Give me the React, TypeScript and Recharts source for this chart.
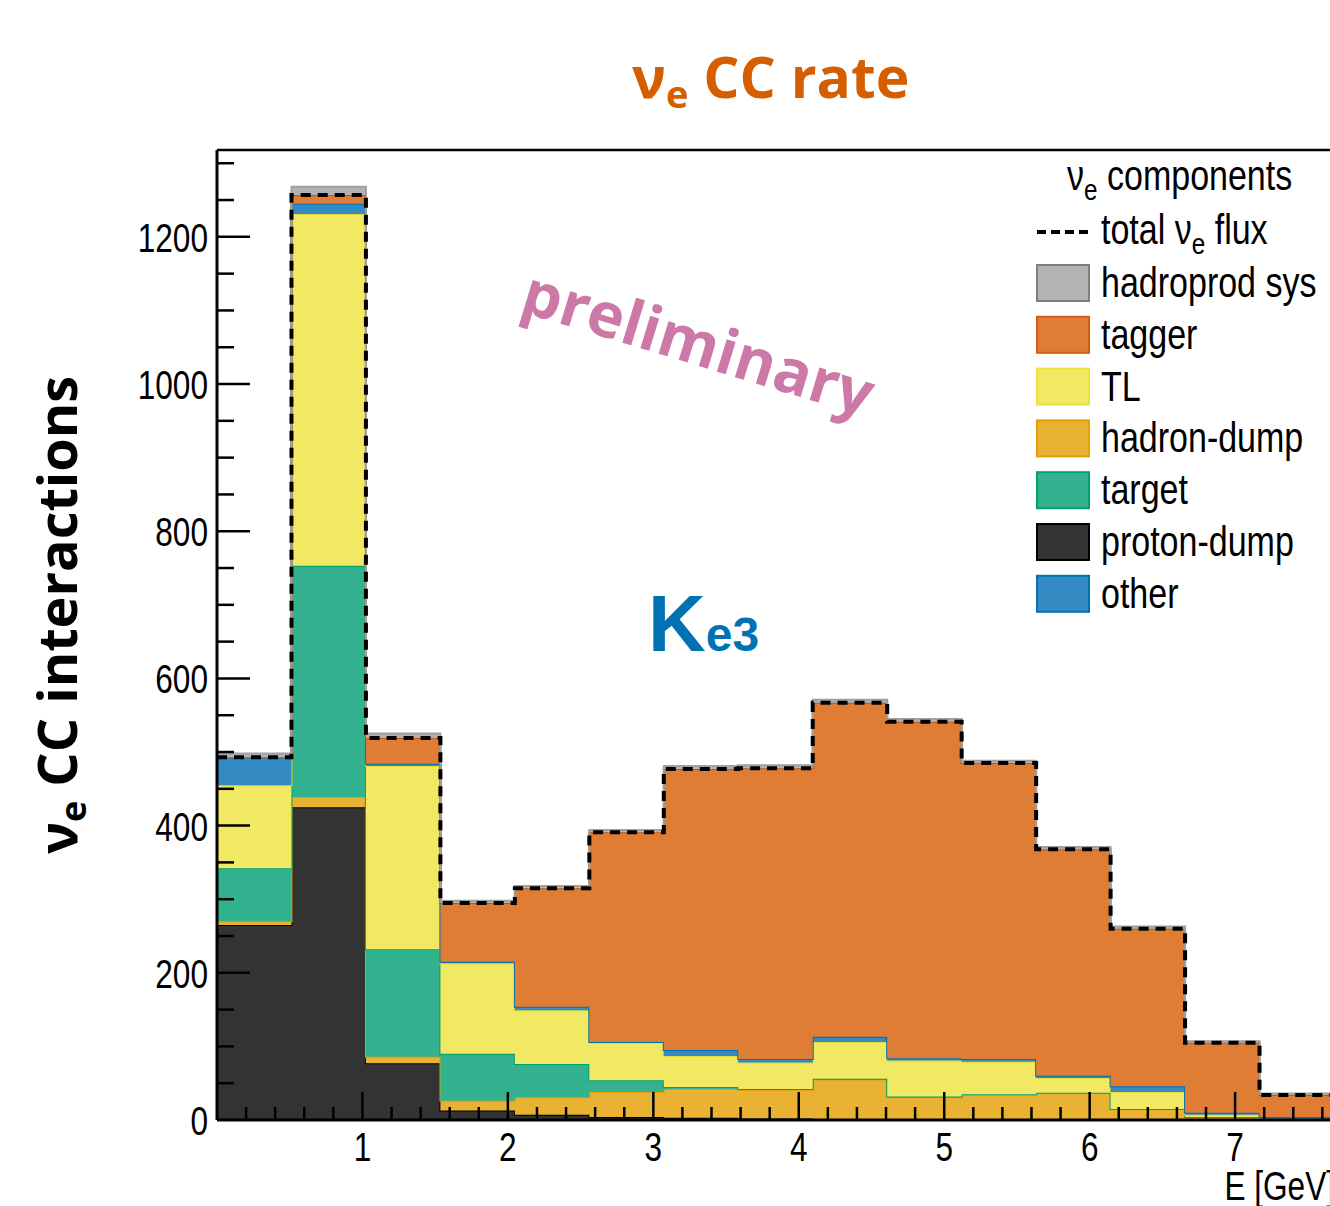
import { ComposedChart, Area, Line, XAxis, YAxis, ReferenceLine } from "recharts";

// bin edges in GeV (15 bins, last edge closes the final bin)
const binEdges = [0, 0.512, 1.024, 1.536, 2.048, 2.56, 3.072, 3.584, 4.096, 4.608, 5.12, 5.632, 6.144, 6.656, 7.168, 7.68];

// stacked components per bin, bottom to top
const protonDump = [265, 425, 77, 13, 7, 4, 3, 2, 1, 1, 1, 1, 0, 0, 0];
const hadronDump = [5, 14, 9, 13, 24, 34, 39, 39, 54, 30, 34, 36, 15, 4, 1];
const target = [72, 314, 146, 64, 45, 16, 3, 1, 1, 1, 0, 0, 0, 0, 0];
const tl = [113, 478, 249, 123, 73, 51, 42, 36, 50, 49, 44, 20, 23, 3, 0];
const other = [38, 14, 3, 2, 5, 1, 8, 5, 7, 3, 4, 3, 8, 3, 3];
const tagger = [0, 12, 35, 80, 161, 285, 382, 395, 454, 457, 402, 308, 214, 95, 30];
const hadroprodSys = [5, 11, 6, 3, 3, 3, 4, 4, 4, 4, 3, 3, 3, 2, 2];

const xMajor = [1, 2, 3, 4, 5, 6, 7];
const Y_MAX = 1318;
const X_MAX = 7.68;

const xTicks: number[] = [];
for (let i = 1; i * 0.2 < X_MAX; i++) xTicks.push(Math.round(i * 2) / 10);
const yTicks: number[] = [];
for (let v = 0; v < Y_MAX; v += 50) yTicks.push(v);

const rows = binEdges.map((x, k) => {
  const i = Math.min(k, protonDump.length - 1);
  return {
    x,
    protonDump: protonDump[i],
    hadronDump: hadronDump[i],
    target: target[i],
    tl: tl[i],
    other: other[i],
    tagger: tagger[i],
    sys: hadroprodSys[i],
    total: protonDump[i] + hadronDump[i] + target[i] + tl[i] + other[i] + tagger[i],
  };
});

const series = [
  { key: "protonDump", name: "proton-dump", fill: "#333333", stroke: "#000000" },
  { key: "hadronDump", name: "hadron-dump", fill: "#E9B233", stroke: "#E3A000" },
  { key: "target", name: "target", fill: "#33B28F", stroke: "#00A070" },
  { key: "tl", name: "TL", fill: "#F1E864", stroke: "#E8DA30" },
  { key: "other", name: "other", fill: "#348AC3", stroke: "#0072B2" },
  { key: "tagger", name: "tagger", fill: "#DE7D33", stroke: "#B85A1A" },
  { key: "sys", name: "hadroprod sys", fill: "#B3B3B3", stroke: "#A0A0A0" },
];

const legendRows = [
  { name: "hadroprod sys", fill: "#B3B3B3", stroke: "#808080" },
  { name: "tagger", fill: "#DE7D33", stroke: "#D06010" },
  { name: "TL", fill: "#F1E864", stroke: "#EEE040" },
  { name: "hadron-dump", fill: "#E9B233", stroke: "#E3A000" },
  { name: "target", fill: "#33B28F", stroke: "#00A070" },
  { name: "proton-dump", fill: "#333333", stroke: "#000000" },
  { name: "other", fill: "#348AC3", stroke: "#0072B2" },
];

const SANS = "'Liberation Sans', Arial, sans-serif";
const BOLD = "'Open Sans', 'Noto Sans', sans-serif";
const TICK_GAP = 9;
const SQUEEZE = 0.79;

// ROOT's helvetica looks condensed; squeeze regular sans horizontally
function Narrow(props: { x: number; y: number; size: number; anchor?: string; squeeze?: number; children: any }) {
  const { x, y, size, anchor = "start", squeeze = SQUEEZE, children } = props;
  return (
    <text
      transform={`translate(${x},${y}) scale(${squeeze},1)`}
      textAnchor={anchor}
      fontFamily={SANS}
      fontSize={size}
      fill="#000"
    >
      {children}
    </text>
  );
}

function YTick(props: any) {
  const { x, y, payload } = props;
  const v = payload.value;
  const major = v % 200 === 0;
  const ax = x + TICK_GAP;
  return (
    <g>
      {v > 0 && <line x1={ax} x2={ax + (major ? 33 : 17)} y1={y} y2={y} stroke="#000" strokeWidth={2.5} />}
      {major && (
        <Narrow x={x} y={y + 15} size={40} anchor="end">
          {v}
        </Narrow>
      )}
    </g>
  );
}

function XTick(props: any) {
  const { x, y, payload } = props;
  const v = payload.value;
  const major = xMajor.some((m) => Math.abs(m - v) < 1e-6);
  return (
    <g>
      <line x1={x} x2={x} y1={y} y2={y - (major ? 28 : 13)} stroke="#000" strokeWidth={2.5} />
      {major && (
        <Narrow x={x} y={y + 41} size={40} anchor="middle">
          {Math.round(v)}
        </Narrow>
      )}
    </g>
  );
}

export default function App() {
  return (
    <div style={{ position: "fixed", left: 0, top: 0, width: 1330, height: 1206, overflow: "hidden", background: "#fff" }}>
      <ComposedChart width={1345} height={1206} data={rows} margin={{ top: 150, right: 11, bottom: 26, left: 137 }}>
        {series.map((s) => (
          <Area
            key={s.key}
            dataKey={s.key}
            name={s.name}
            type="stepAfter"
            stackId="a"
            fill={s.fill}
            fillOpacity={1}
            stroke={s.stroke}
            strokeWidth={2}
            dot={false}
            activeDot={false}
            isAnimationActive={false}
          />
        ))}
        <Line
          dataKey="total"
          type="stepAfter"
          stroke="#000"
          strokeWidth={4}
          strokeDasharray="10 7"
          dot={false}
          activeDot={false}
          isAnimationActive={false}
        />
        <ReferenceLine y={Y_MAX} stroke="#000" strokeWidth={2.5} ifOverflow="visible" />
        <XAxis
          type="number"
          dataKey="x"
          domain={[0, X_MAX]}
          allowDataOverflow
          ticks={xTicks}
          interval={0}
          tick={<XTick />}
          tickLine={false}
          tickSize={0}
          tickMargin={0}
          height={60}
          axisLine={{ stroke: "#000", strokeWidth: 3 }}
        />
        <YAxis
          type="number"
          domain={[0, Y_MAX]}
          allowDataOverflow
          ticks={yTicks}
          interval={0}
          tick={<YTick />}
          tickLine={false}
          tickSize={0}
          tickMargin={TICK_GAP}
          width={80}
          axisLine={{ stroke: "#000", strokeWidth: 3 }}
        />
      </ComposedChart>

      <svg width={1330} height={1206} style={{ position: "absolute", left: 0, top: 0, pointerEvents: "none" }}>
        <text x={632} y={98} fontFamily={BOLD} fontWeight={700} fontSize={57} fill="#D55E00">
          ν<tspan fontSize={38} dy={10}>e</tspan>
          <tspan dy={-10}> CC rate</tspan>
        </text>

        <text transform="translate(77,615) rotate(-90)" textAnchor="middle" fontFamily={BOLD} fontWeight={700} fontSize={54} fill="#000">
          ν<tspan fontSize={36} dy={9}>e</tspan>
          <tspan dy={-9}> CC interactions</tspan>
        </text>

        <text transform="translate(692,364) rotate(17)" textAnchor="middle" fontFamily={BOLD} fontWeight={700} fontSize={62} fill="#CC79A7">
          preliminary
        </text>

        <text x={648} y={651} fontFamily={SANS} fontWeight={700} fontSize={80} fill="#0072B2">
          K<tspan fontSize={48}>e3</tspan>
        </text>

        <Narrow x={1067} y={190} size={42} squeeze={0.81}>
          ν<tspan fontSize={30} dy={10}>e</tspan>
          <tspan dy={-10}> components</tspan>
        </Narrow>
        <line x1={1037} x2={1088} y1={232} y2={232} stroke="#000" strokeWidth={4} strokeDasharray="9 5" />
        <Narrow x={1101} y={244} size={42} squeeze={0.81}>
          total ν<tspan fontSize={30} dy={10}>e</tspan>
          <tspan dy={-10}> flux</tspan>
        </Narrow>
        {legendRows.map((r, i) => {
          const cy = 283 + i * 51.8;
          return (
            <g key={r.name}>
              <rect x={1037} y={cy - 18} width={52} height={36} fill={r.fill} stroke={r.stroke} strokeWidth={2} />
              <Narrow x={1101} y={cy + 14} size={42} squeeze={0.81}>
                {r.name}
              </Narrow>
            </g>
          );
        })}

        <Narrow x={1335} y={1200} size={40} anchor="end">
          E [GeV]
        </Narrow>
      </svg>
    </div>
  );
}
